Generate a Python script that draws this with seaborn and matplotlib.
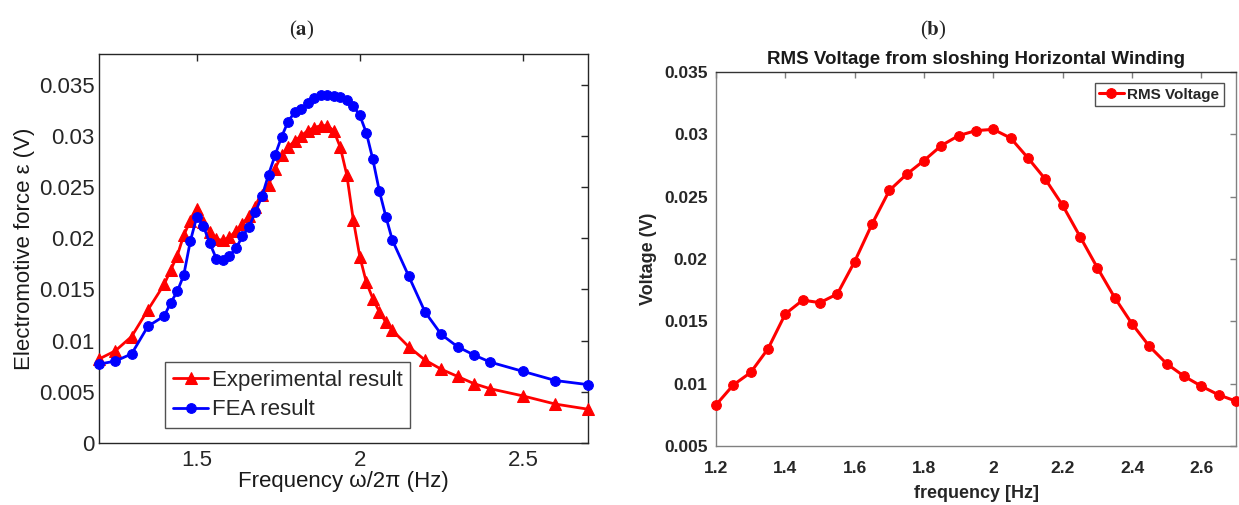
import matplotlib
matplotlib.use("Agg")
import matplotlib.pyplot as plt
import seaborn as sns
import pandas as pd

# ---------------- data ----------------
exp_freq = [1.2, 1.25, 1.3, 1.35, 1.4, 1.42, 1.44, 1.46, 1.48, 1.5, 1.52, 1.54, 1.56, 1.58, 1.6,
            1.62, 1.64, 1.66, 1.68, 1.7, 1.72, 1.74, 1.76, 1.78, 1.8, 1.82, 1.84, 1.86, 1.88, 1.9,
            1.92, 1.94, 1.96, 1.98, 2.0, 2.02, 2.04, 2.06, 2.08, 2.1, 2.15, 2.2, 2.25, 2.3, 2.35,
            2.4, 2.5, 2.6, 2.7]
exp_emf = [0.0082, 0.0090, 0.0104, 0.0130, 0.0155, 0.0169, 0.0183, 0.0203, 0.0217, 0.0229,
           0.0216, 0.0206, 0.0199, 0.0198, 0.0201, 0.0207, 0.0214, 0.0222, 0.0231, 0.0242,
           0.0252, 0.0268, 0.0281, 0.0289, 0.0295, 0.0300, 0.0305, 0.0308, 0.0310, 0.0310,
           0.0305, 0.0289, 0.0262, 0.0218, 0.0182, 0.0157, 0.0141, 0.0128, 0.0118, 0.0110,
           0.0094, 0.0081, 0.0072, 0.0065, 0.0058, 0.0053, 0.0046, 0.0038, 0.0033]

fea_freq = [1.2, 1.25, 1.3, 1.35, 1.4, 1.42, 1.44, 1.46, 1.48, 1.5, 1.52, 1.54, 1.56, 1.58, 1.6,
            1.62, 1.64, 1.66, 1.68, 1.7, 1.72, 1.74, 1.76, 1.78, 1.8, 1.82, 1.84, 1.86, 1.88, 1.9,
            1.92, 1.94, 1.96, 1.98, 2.0, 2.02, 2.04, 2.06, 2.08, 2.1, 2.15, 2.2, 2.25, 2.3, 2.35,
            2.4, 2.5, 2.6, 2.7]
fea_emf = [0.0077, 0.0080, 0.0087, 0.0114, 0.0124, 0.0137, 0.0148, 0.0164, 0.0197, 0.0221,
           0.0212, 0.0195, 0.0180, 0.0179, 0.0183, 0.0190, 0.0202, 0.0211, 0.0226, 0.0241,
           0.0262, 0.0281, 0.0299, 0.0314, 0.0323, 0.0326, 0.0332, 0.0337, 0.0340, 0.0340,
           0.0339, 0.0338, 0.0335, 0.0329, 0.0320, 0.0303, 0.0277, 0.0246, 0.0221, 0.0198,
           0.0163, 0.0128, 0.0106, 0.0094, 0.0086, 0.0079, 0.0070, 0.0061, 0.0057]

rms_freq = [1.2, 1.25, 1.3, 1.35, 1.4, 1.45, 1.5, 1.55, 1.6, 1.65, 1.7, 1.75, 1.8, 1.85, 1.9,
            1.95, 2.0, 2.05, 2.1, 2.15, 2.2, 2.25, 2.3, 2.35, 2.4, 2.45, 2.5, 2.55, 2.6, 2.65, 2.7]
rms_volt = [0.0083, 0.0099, 0.0109, 0.0128, 0.0156, 0.0167, 0.0165, 0.0172, 0.0198, 0.0228,
            0.0255, 0.0268, 0.0279, 0.0291, 0.0299, 0.0303, 0.0304, 0.0297, 0.0281, 0.0264,
            0.0243, 0.0218, 0.0193, 0.0169, 0.0148, 0.0130, 0.0116, 0.0106, 0.0098, 0.0091,
            0.0086]

left_xticks = [1.5, 2.0, 2.5]
left_xticklabels = ["1.5", "2", "2.5"]
left_yticks = [0, 0.005, 0.01, 0.015, 0.02, 0.025, 0.03, 0.035]
left_yticklabels = ["0", "0.005", "0.01", "0.015", "0.02", "0.025", "0.03", "0.035"]
right_xticks = [1.2, 1.4, 1.6, 1.8, 2.0, 2.2, 2.4, 2.6]
right_xticklabels = ["1.2", "1.4", "1.6", "1.8", "2", "2.2", "2.4", "2.6"]
right_yticks = [0.005, 0.01, 0.015, 0.02, 0.025, 0.03, 0.035]
right_yticklabels = ["0.005", "0.01", "0.015", "0.02", "0.025", "0.03", "0.035"]

# ---------------- style ----------------
sns.set_theme(style="white")
plt.rcParams["font.family"] = ["Liberation Sans", "DejaVu Sans"]
plt.rcParams["mathtext.fontset"] = "stix"

fig = plt.figure(figsize=(12.39, 5.05), dpi=100)
axA = fig.add_axes([0.0799, 0.1228, 0.3947, 0.7703])
axB = fig.add_axes([0.5779, 0.1168, 0.4197, 0.7406])

# ---------------- panel (a) ----------------
df_exp = pd.DataFrame({"f": exp_freq, "v": exp_emf})
df_fea = pd.DataFrame({"f": fea_freq, "v": fea_emf})
sns.lineplot(data=df_exp, x="f", y="v", ax=axA, color="#ff0000", marker="^",
             markersize=8, markeredgecolor="#ff0000", linewidth=2.0,
             label="Experimental result", clip_on=False, zorder=3)
sns.lineplot(data=df_fea, x="f", y="v", ax=axA, color="#0000ff", marker="o",
             markersize=7, markeredgecolor="#0000ff", linewidth=2.0,
             label="FEA result", clip_on=False, zorder=4)
axA.set_xlim(1.2, 2.7)
axA.set_ylim(0, 0.038)
axA.set_xticks(left_xticks)
axA.set_xticklabels(left_xticklabels)
axA.set_yticks(left_yticks)
axA.set_yticklabels(left_yticklabels)
axA.tick_params(direction="in", length=5, width=1, top=True, right=True,
                labelsize=16, colors="#262626")
axA.tick_params(axis="x", pad=5)
axA.tick_params(axis="y", pad=3)
for s in axA.spines.values():
    s.set_color("#262626")
    s.set_linewidth(1.0)
axA.set_xlabel("Frequency ω/2π (Hz)", fontsize=16, color="#1a1a1a", labelpad=0)
axA.set_ylabel("Electromotive force ε (V)", fontsize=16, color="#1a1a1a", labelpad=3)
legA = axA.legend(loc="lower left", bbox_to_anchor=(0.135, 0.038), borderaxespad=0,
                  fontsize=16, frameon=True, fancybox=False, handlelength=1.6,
                  handletextpad=0.15, borderpad=0.35, labelspacing=0.4)
legA.get_frame().set_edgecolor("#262626")
legA.get_frame().set_linewidth(1.0)
fig.text(0.2437, 0.94, r"($\mathbf{a}$)", ha="center", va="center", fontsize=15,
         family=["Liberation Serif", "DejaVu Serif"])

# ---------------- panel (b) ----------------
bold_fam = ["Liberation Sans Narrow", "Liberation Sans", "DejaVu Sans"]
df_rms = pd.DataFrame({"f": rms_freq, "v": rms_volt})
sns.lineplot(data=df_rms, x="f", y="v", ax=axB, color="#ff0000", marker="o",
             markersize=7, markeredgecolor="#ff0000", linewidth=2.2,
             label="RMS Voltage", clip_on=False, zorder=3)
axB.set_xlim(1.2, 2.7)
axB.set_ylim(0.005, 0.035)
axB.set_xticks(right_xticks)
axB.set_xticklabels(right_xticklabels)
axB.set_yticks(right_yticks)
axB.set_yticklabels(right_yticklabels)
axB.tick_params(direction="in", length=4, width=1, top=True, right=True,
                labelsize=12.5, colors="#7f7f7f", labelcolor="#262626")
axB.tick_params(axis="x", pad=11)
axB.tick_params(axis="y", pad=6)
for lab in axB.get_xticklabels() + axB.get_yticklabels():
    lab.set_fontweight("bold")
    lab.set_family(bold_fam)
for name, s in axB.spines.items():
    s.set_color("#333333" if name == "top" else "#808080")
    s.set_linewidth(1.0)
axB.set_xlabel("frequency [Hz]", fontsize=13, fontweight="bold", family=bold_fam,
               color="#262626", labelpad=6)
axB.set_ylabel("Voltage (V)", fontsize=13, fontweight="bold", family=bold_fam,
               color="#262626", labelpad=5)
axB.set_title("RMS Voltage from sloshing Horizontal Winding", fontsize=13.5,
              fontweight="bold", family=bold_fam, color="#1a1a1a", pad=6)
legB = axB.legend(loc="upper right", bbox_to_anchor=(0.977, 0.97), borderaxespad=0,
                  frameon=True, fancybox=False, handlelength=1.6,
                  handletextpad=0.25, borderpad=0.3,
                  prop={"weight": "bold", "family": bold_fam, "size": 11})
legB.get_frame().set_edgecolor("#262626")
legB.get_frame().set_linewidth(1.0)
fig.text(0.753, 0.94, r"($\mathbf{b}$)", ha="center", va="center", fontsize=15,
         family=["Liberation Serif", "DejaVu Serif"])

fig.savefig("out.png", dpi=100)
